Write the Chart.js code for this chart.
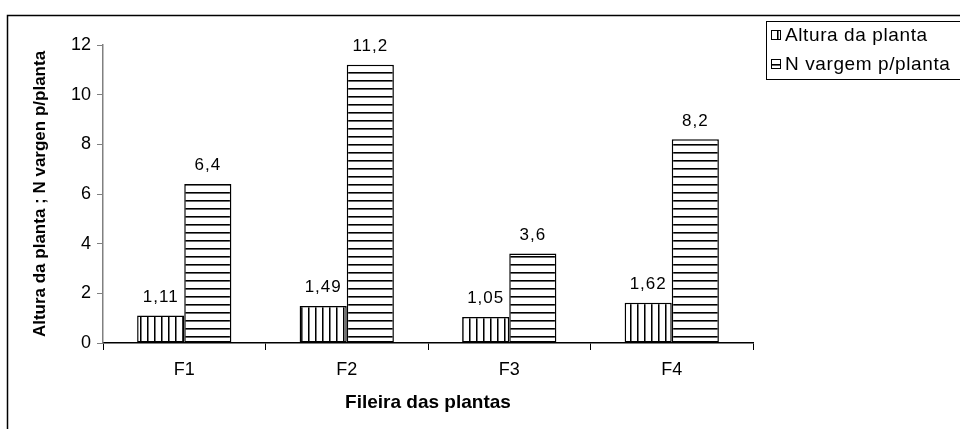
<!DOCTYPE html>
<html>
<head>
<meta charset="utf-8">
<script src="https://cdn.jsdelivr.net/npm/chart.js@4"></script>
<style>
  html, body { margin: 0; padding: 0; background: #ffffff; }
  #wrap { width: 960px; height: 429px; }
</style>
</head>
<body>
<div id="wrap"><canvas id="c" width="960" height="429"></canvas></div>
<script>
// Categories, series and axis ticks
const categories = ['F1', 'F2', 'F3', 'F4'];
const alturaPlanta = [1.11, 1.49, 1.05, 1.62];
const nVargemPlanta = [6.4, 11.2, 3.6, 8.2];
const yTicks = [0, 2, 4, 6, 8, 10, 12];
const seriesNames = ['Altura da planta', 'N vargem p/planta'];
const xTitle = 'Fileira das plantas';
const yTitle = 'Altura da planta ; N vargen p/planta';

const FONT = '"Liberation Sans", Arial, sans-serif';

// Hatch fills: vertical stripes and horizontal stripes
function stripePattern(vertical) {
  const t = document.createElement('canvas');
  const size = vertical ? 7 : 8;
  t.width = size; t.height = size;
  const g = t.getContext('2d');
  g.fillStyle = '#ffffff';
  g.fillRect(0, 0, size, size);
  g.fillStyle = '#000000';
  if (vertical) {
    g.fillRect(0, 0, 1, size);
    g.fillStyle = '#777777';
    g.fillRect(1, 0, 1, size);
  } else {
    g.fillRect(0, 0, size, 1);
    g.fillStyle = '#666666';
    g.fillRect(0, 1, size, 1);
  }
  return document.getElementById('c').getContext('2d').createPattern(t, 'repeat');
}
const vPattern = stripePattern(true);
const hPattern = stripePattern(false);
const patterns = [vPattern, hPattern];

const fmt = v => String(v).replace('.', ',');

// Outer frame around the whole figure
const framePlugin = {
  id: 'frame',
  beforeDraw(chart) {
    const ctx = chart.ctx;
    ctx.save();
    ctx.fillStyle = '#ffffff';
    ctx.fillRect(0, 0, chart.width, chart.height);
    ctx.strokeStyle = '#000000';
    ctx.lineWidth = 1.5;
    ctx.strokeRect(7.5, 15.5, 1000, 600);
    ctx.restore();
  }
};

// Value labels above each bar
const valueLabels = {
  id: 'valueLabels',
  afterDatasetsDraw(chart) {
    const ctx = chart.ctx;
    ctx.save();
    ctx.font = '17px ' + FONT;
    ctx.letterSpacing = '1px';
    ctx.fillStyle = '#000000';
    ctx.textAlign = 'center';
    ctx.textBaseline = 'bottom';
    chart.data.datasets.forEach((ds, i) => {
      chart.getDatasetMeta(i).data.forEach((bar, j) => {
        ctx.fillText(fmt(ds.data[j]), bar.x, bar.y - 10);
      });
    });
    ctx.restore();
  }
};

// Boxed legend at the top right
const boxLegend = {
  id: 'boxLegend',
  afterDraw(chart) {
    const ctx = chart.ctx;
    ctx.save();
    ctx.strokeStyle = '#000000';
    ctx.lineWidth = 1;
    ctx.fillStyle = '#ffffff';
    ctx.fillRect(766.5, 21.5, 200, 58);
    ctx.strokeRect(766.5, 21.5, 200, 58);
    ctx.font = '19px ' + FONT;
    ctx.letterSpacing = '0.6px';
    ctx.textBaseline = 'middle';
    ctx.textAlign = 'left';
    const rows = [35, 64];
    chart.data.datasets.forEach((ds, i) => {
      const y = rows[i];
      ctx.fillStyle = patterns[i];
      ctx.fillRect(771, y - 5, 10, 10);
      ctx.strokeStyle = '#000000';
      ctx.lineWidth = 1;
      ctx.strokeRect(771.5, y - 4.5, 9, 9);
      ctx.fillStyle = '#000000';
      ctx.fillText(ds.label, 785, y + 1);
    });
    ctx.restore();
  }
};

new Chart(document.getElementById('c'), {
  type: 'bar',
  data: {
    labels: categories,
    datasets: [
      {
        label: seriesNames[0],
        data: alturaPlanta,
        backgroundColor: vPattern,
        borderColor: '#000000',
        borderWidth: 1.5,
        borderSkipped: false
      },
      {
        label: seriesNames[1],
        data: nVargemPlanta,
        backgroundColor: hPattern,
        borderColor: '#000000',
        borderWidth: 1.5,
        borderSkipped: false
      }
    ]
  },
  options: {
    responsive: false,
    devicePixelRatio: 1,
    animation: false,
    layout: { padding: { left: 0, right: 207, top: 45, bottom: 0 } },
    datasets: { bar: { categoryPercentage: 0.58, barPercentage: 1.0 } },
    plugins: {
      legend: { display: false },
      tooltip: { enabled: false }
    },
    scales: {
      x: {
        offset: true,
        grid: {
          offset: true,
          drawOnChartArea: false,
          drawTicks: true,
          tickLength: 7,
          color: '#000000',
          lineWidth: 1
        },
        border: { display: true, color: '#000000', width: 1.5 },
        ticks: {
          color: '#000000',
          font: { family: FONT, size: 18 },
          padding: 9
        },
        title: {
          display: true,
          text: xTitle,
          color: '#000000',
          font: { family: FONT, size: 19, weight: 'bold' },
          padding: { top: 0, bottom: 15 }
        },
        afterFit(scale) { scale.height = 86; }
      },
      y: {
        min: 0,
        max: 12,
        afterBuildTicks(scale) { scale.ticks = yTicks.map(v => ({ value: v })); },
        grid: {
          drawOnChartArea: false,
          drawTicks: true,
          tickLength: 6,
          color: '#808080',
          lineWidth: 1
        },
        border: { display: true, color: '#808080', width: 1.5 },
        ticks: {
          color: '#000000',
          font: { family: FONT, size: 18 },
          padding: 6
        },
        title: {
          display: true,
          text: yTitle,
          color: '#000000',
          font: { family: FONT, size: 17, weight: 'bold' },
          padding: { top: 30, bottom: 0 }
        },
        afterFit(scale) { scale.width = 103; }
      }
    }
  },
  plugins: [framePlugin, valueLabels, boxLegend]
});
</script>
</body>
</html>
